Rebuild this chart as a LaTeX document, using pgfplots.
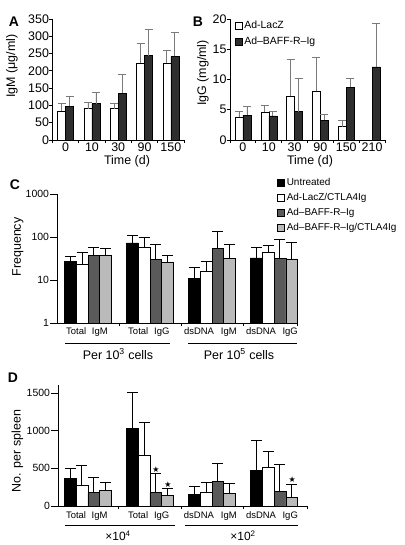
\documentclass[border=0pt]{standalone}
\usepackage{pgfplots}
\pgfplotsset{compat=1.18}
\usepackage{fontspec}
\setmainfont{Liberation Sans}
\newfontfamily\dejavu{DejaVu Sans}
\definecolor{darkbar}{HTML}{2E2E2E}
\definecolor{cdark}{HTML}{5A5A5A}
\definecolor{clight}{HTML}{BABABA}
\definecolor{errgray}{HTML}{7A7A7A}
\newcommand{\fs}[1]{\fontsize{#1}{#1}\selectfont}
\newcommand{\str}{{\dejavu\fs{8}★}}
\pgfplotsset{
  panel/.style={scale only axis, axis lines=left, axis line style={-, line width=0.8bp},
    tick align=outside, major tick length=3.5bp, minor tick length=3bp,
    every tick/.style={line width=0.8bp, black},
    major x tick style={draw=none},
    /pgf/number format/assume math mode=true, /pgf/number format/1000 sep={},
    clip=false, ybar=0pt},
  errA/.style={error bars/.cd, y dir=plus, y explicit,
    error bar style={errgray, line width=0.8bp},
    error mark options={rotate=90, errgray, mark size=4bp, line width=0.8bp}},
  errC/.style={error bars/.cd, y dir=plus, y explicit,
    error bar style={black, line width=1bp},
    error mark options={rotate=90, black, mark size=5.5bp, line width=1bp}},
  sq/.style={legend image code/.code={\draw[##1, line width=0.5bp] (0bp,-3.5bp) rectangle (7bp,3.5bp);}}
}
\begin{document}
\begin{tikzpicture}[x=1bp,y=1bp]
\path[use as bounding box] (0,0) rectangle (404,545);
% ---------------- Panel A
\begin{axis}[panel, at={(52.5bp,405bp)}, anchor=south west, width=131.5bp, height=121bp,
  bar width=8bp, xmin=-0.5, xmax=4.5, ymin=0, ymax=350, ytick={0,50,...,350},
  xtick={0,...,4}, xticklabels={0,10,30,90,150}, minor xtick={-0.5,0.5,...,4.5},
  x tick label style={font=\fs{12.5}, yshift=4.5bp},
  y tick label style={font=\fs{12.5}, xshift=3.5bp}]
\addplot[fill=white, draw=black, line width=0.5bp, errA] coordinates {
 (0,84) +- (0,23) (1,91) +- (0,18) (2,91) +- (0,16) (3,222) +- (0,58) (4,222) +- (0,38)};
\addplot[fill=darkbar, draw=black, line width=0.5bp, errA] coordinates {
 (0,98) +- (0,28) (1,105) +- (0,34) (2,135) +- (0,56) (3,244) +- (0,76) (4,242) +- (0,68)};
\end{axis}
% ---------------- Panel B
\begin{axis}[panel, at={(230bp,405bp)}, anchor=south west, width=155bp, height=121bp,
  bar width=8bp, xmin=-0.5, xmax=5.5, ymin=0, ymax=20, ytick={0,5,...,20},
  xtick={0,...,5}, xticklabels={0,10,30,90,150,210}, minor xtick={-0.5,0.5,...,5.5},
  x tick label style={font=\fs{12.5}, yshift=4.5bp},
  y tick label style={font=\fs{12.5}, xshift=3.5bp}, sq,
  legend style={at={(0.03,1.0)}, anchor=north west, draw=none, fill=none, font=\fs{10.5},
    inner sep=0pt, row sep=3bp, legend cell align=left}]
\addplot[fill=white, draw=black, line width=0.5bp, errA] coordinates {
 (0,3.8) +- (0,0.9) (1,4.6) +- (0,1.1) (2,7.2) +- (0,6.1) (3,8.1) +- (0,5.6) (4,2.2) +- (0,1.05)};
\addplot[fill=darkbar, draw=black, line width=0.5bp, errA] coordinates {
 (0,4.1) +- (0,1.4) (1,4.0) +- (0,0.7) (2,4.7) +- (0,5.4) (3,3.3) +- (0,0.9) (4,8.7) +- (0,1.4) (5,12.1) +- (0,7.2)};
\legend{Ad-LacZ, Ad–BAFF-R–Ig}
\end{axis}
% ---------------- Panel C
\begin{axis}[panel, ymode=log, at={(57bp,222bp)}, anchor=south west, width=240bp, height=129bp,
  bar width=11.7bp, xmin=-0.5, xmax=3.37, ymin=1, ymax=1000, major tick length=7bp,
  ytick={1,10,100,1000}, yticklabels={1,10,100,1000}, minor y tick style={draw=none},
  xtick={-0.19,0.19,0.81,1.19,1.79,2.27,2.79,3.26},
  xticklabels={Total,IgM,Total,IgG,dsDNA,IgM,dsDNA,IgG},
  minor xtick={0.5,1.5,2.5,3.37}, minor tick length=3.5bp,
  x tick label style={font=\fs{9.5}, yshift=6bp}, y tick label style={font=\fs{10.5}, xshift=2.5bp}, sq,
  legend style={at={(0.917,1.14)}, anchor=north west, draw=none, fill=none, font=\fs{10},
    inner sep=0pt, row sep=2.5bp, legend cell align=left}]
\addplot[fill=black, draw=black, line width=0.5bp, errC] coordinates {
 (0,27.6) +- (0,7.4) (1,73) +- (0,37) (2,11) +- (0,8.7) (3,32.5) +- (0,25.5)};
\addplot[fill=white, draw=black, line width=0.5bp, errC] coordinates {
 (0,23.5) +- (0,20.5) (1,57) +- (0,38) (2,15.8) +- (0,11.2) (3,44) +- (0,19)};
\addplot[fill=cdark, draw=black, line width=0.5bp, errC] coordinates {
 (0,38) +- (0,20) (1,30) +- (0,38) (2,55) +- (0,76) (3,32) +- (0,55)};
\addplot[fill=clight, draw=black, line width=0.5bp, errC] coordinates {
 (0,38) +- (0,15) (1,25.7) +- (0,12.3) (2,32) +- (0,36) (3,31) +- (0,45)};
\legend{Untreated, Ad-LacZ/CTLA4Ig, Ad–BAFF-R–Ig, Ad–BAFF-R–Ig/CTLA4Ig}
\end{axis}
% ---------------- Panel D
\begin{axis}[panel, at={(58bp,39bp)}, anchor=south west, width=249bp, height=120.5bp,
  bar width=11.7bp, xmin=-0.48, xmax=3.53, ymin=0, ymax=1600, major tick length=7bp,
  ytick={0,500,1000,1500},
  xtick={-0.19,0.19,0.81,1.19,1.79,2.27,2.79,3.26},
  xticklabels={Total,IgM,Total,IgG,dsDNA,IgM,dsDNA,IgG},
  minor xtick={0.5,1.5,2.5,3.53}, minor tick length=3.5bp,
  x tick label style={font=\fs{9.5}, yshift=4.5bp}, y tick label style={font=\fs{10.5}, xshift=2.5bp}]
\addplot[fill=black, draw=black, line width=0.5bp, errC] coordinates {
 (0,362) +- (0,132) (1,1032) +- (0,472) (2,159) +- (0,97) (3,476) +- (0,397)};
\addplot[fill=white, draw=black, line width=0.5bp, errC] coordinates {
 (0,278) +- (0,256) (1,670) +- (0,433) (2,176) +- (0,133) (3,520) +- (0,208)};
\addplot[fill=cdark, draw=black, line width=0.5bp, errC] coordinates {
 (0,176) +- (0,199) (1,176) +- (0,256) (2,322) +- (0,243) (3,199) +- (0,352)};
\addplot[fill=clight, draw=black, line width=0.5bp, errC] coordinates {
 (0,203) +- (0,110) (1,141) +- (0,93) (2,163) +- (0,137) (3,115) +- (0,176)};
\node[above, inner sep=1bp] at (axis cs:1.0975,432) {\str};
\node[above, inner sep=1bp] at (axis cs:1.2925,234) {\str};
\node[above, inner sep=1bp] at (axis cs:3.2925,291) {\str};
\end{axis}
% ---------------- texts
\node[font=\bfseries\fs{14}] at (14,523) {A};
\node[font=\bfseries\fs{14}] at (198,523) {B};
\node[font=\bfseries\fs{14}] at (15,360) {C};
\node[font=\bfseries\fs{14}] at (13,167) {D};
\node[font=\fs{12.5}] at (127,384) {Time (d)};
\node[font=\fs{12.5}] at (310,384) {Time (d)};
\node[font=\fs{12.5}, rotate=90] at (12,479) {IgM (μg/ml)};
\node[font=\fs{12.5}, rotate=90] at (203,472) {IgG (mg/ml)};
\node[font=\fs{12.5}, rotate=90] at (18,298) {Frequency};
\node[font=\fs{12.5}, rotate=90] at (17.5,94) {No. per spleen};
\draw[line width=0.8bp] (65,202) -- (170,202);
\draw[line width=0.8bp] (188,202) -- (297,202);
\node[font=\fs{12.5}] at (118,191) {Per 10\textsuperscript{3} cells};
\node[font=\fs{12.5}] at (239,191) {Per 10\textsuperscript{5} cells};
\draw[line width=0.8bp] (65,20) -- (175,20);
\draw[line width=0.8bp] (185,20) -- (298,20);
\node[font=\fs{12}] at (118,9) {×10\textsuperscript{4}};
\node[font=\fs{12}] at (243,9) {×10\textsuperscript{2}};
\end{tikzpicture}
\end{document}
